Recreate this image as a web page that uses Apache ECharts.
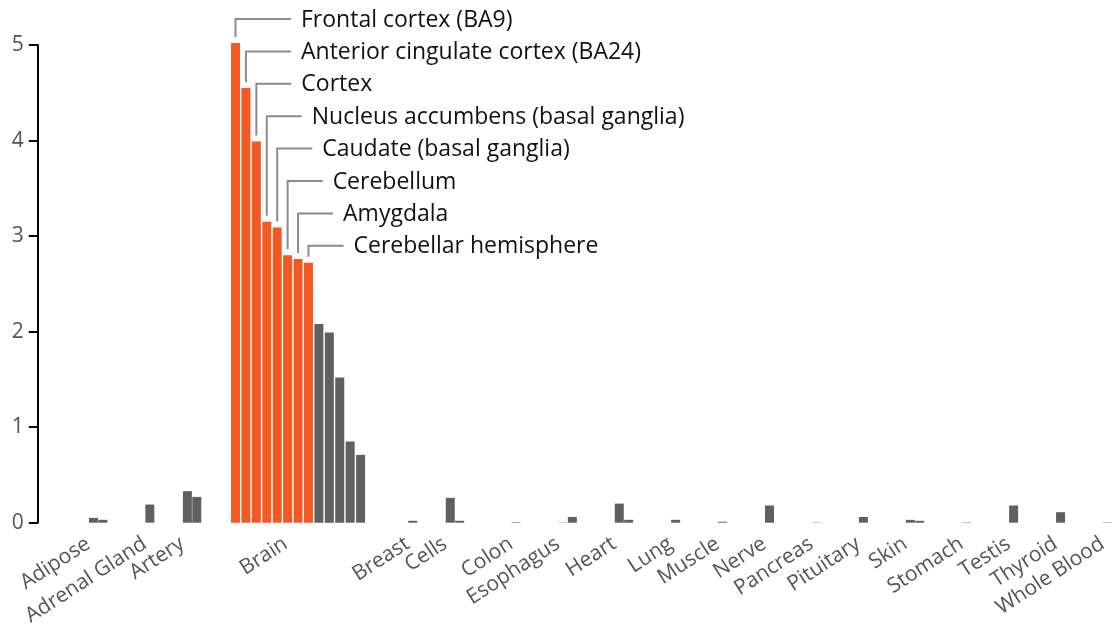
<!DOCTYPE html>
<html>
<head>
<meta charset="utf-8">
<script src="https://cdn.jsdelivr.net/npm/echarts@6/dist/echarts.min.js"></script>
<style>
  html, body { margin: 0; background: #fff; }
  #chart { width: 1115px; height: 631px; }
</style>
</head>
<body>
<div id="chart"></div>
<script>
// tissue groups (brain is kept apart, it gets its own wider band)
const tissues = ['Adipose', 'Adrenal Gland', 'Artery', 'Brain', 'Breast', 'Cells', 'Colon', 'Esophagus',
    'Heart', 'Lung', 'Muscle', 'Nerve', 'Pancreas', 'Pituitary', 'Skin', 'Stomach', 'Testis', 'Thyroid', 'Whole Blood'];

const tissueValues = [
    [0.05, 0.03],          // Adipose
    [0.19],                // Adrenal Gland
    [0.33, 0.27, 0],       // Artery
    [],                    // Brain (see below)
    [0.02],                // Breast
    [0.26, 0.02],          // Cells
    [0.006, 0],            // Colon
    [0.003, 0.06, 0],      // Esophagus
    [0.2, 0.03],           // Heart
    [0.03],                // Lung
    [0.01],                // Muscle
    [0.18],                // Nerve
    [0.003],               // Pancreas
    [0.06],                // Pituitary
    [0.03, 0.02],          // Skin
    [0.004],               // Stomach
    [0.18],                // Testis
    [0.11],                // Thyroid
    [0.004]                // Whole Blood
];

const brainNames = ['Frontal cortex (BA9)', 'Anterior cingulate cortex (BA24)', 'Cortex',
    'Nucleus accumbens (basal ganglia)', 'Caudate (basal ganglia)', 'Cerebellum', 'Amygdala',
    'Cerebellar hemisphere', 'Hypothalamus', 'Hippocampus', 'Putamen (basal ganglia)',
    'Substantia nigra', 'Spinal cord (cervical c-1)'];
const brainValues = [5.02, 4.55, 3.99, 3.15, 3.09, 2.8, 2.76, 2.72, 2.08, 1.99, 1.52, 0.85, 0.71];
const highlighted = 8;

// layout of the slot axis: first slot of each group, total slots
const groupStart = [0, 6, 10, 15, 34, 38, 45, 50, 56, 62, 67, 72, 77, 82, 87, 93, 98, 103, 108];
const slotCount = 109;
const brainLabelShift = 6;

const ORANGE = '#f15a24';
const GRAY = '#606060';
const FONT = '"Open Sans", "Noto Sans", sans-serif';

const slotNames = new Array(slotCount).fill('');
const slotValues = new Array(slotCount).fill(null);
tissues.forEach((t, g) => {
    const s = groupStart[g];
    slotNames[s + (t === 'Brain' ? brainLabelShift : 0)] = t;
    tissueValues[g].forEach((v, j) => { slotValues[s + j] = v; });
});

const chart = echarts.init(document.getElementById('chart'));

const gridTop = 45, gridBottom = 108.3;

const option = {
    backgroundColor: '#fff',
    animation: false,
    grid: [
        { left: 88.8, right: 2.8, top: gridTop, bottom: gridBottom },
        { left: 230.3, width: 135.5, top: gridTop, bottom: gridBottom }
    ],
    xAxis: [
        {
            type: 'category',
            gridIndex: 0,
            data: slotNames,
            axisLine: { show: false },
            axisTick: { show: false },
            axisLabel: {
                interval: 0,
                rotate: 33,
                margin: 16,
                padding: [0, 6, 0, 0],
                color: '#555',
                fontSize: 21,
                fontFamily: FONT
            }
        },
        {
            type: 'category',
            gridIndex: 1,
            data: brainNames,
            show: false
        }
    ],
    yAxis: [
        {
            type: 'value',
            gridIndex: 0,
            min: 0,
            max: 5,
            interval: 1,
            offset: 51,
            axisLine: { show: true, lineStyle: { color: '#000', width: 2 } },
            axisTick: { show: true, length: 9, lineStyle: { color: '#000', width: 2 } },
            axisLabel: { margin: 14, padding: [5, 0, 0, 0], color: '#555', fontSize: 21, fontFamily: FONT },
            splitLine: { show: false }
        },
        {
            type: 'value',
            gridIndex: 1,
            min: 0,
            max: 5,
            show: false,
            splitLine: { show: false }
        }
    ],
    series: [
        {
            type: 'bar',
            xAxisIndex: 0,
            yAxisIndex: 0,
            data: slotValues,
            barWidth: 9,
            itemStyle: { color: GRAY },
            clip: false
        },
        {
            type: 'bar',
            xAxisIndex: 1,
            yAxisIndex: 1,
            data: brainValues.map((v, i) => ({
                value: v,
                itemStyle: { color: i < highlighted ? ORANGE : GRAY }
            })),
            barWidth: 9,
            clip: false
        },
        {
            type: 'custom',
            xAxisIndex: 1,
            yAxisIndex: 1,
            clip: false,
            silent: true,
            data: brainValues.slice(0, highlighted).map((v, i) => [i, v]),
            renderItem: function (params, api) {
                const i = params.dataIndex;
                const p = api.coord([api.value(0), api.value(1)]);
                const rowY = 19 + i * 32.4;
                const endX = Math.max(291, p[0] + 35);
                return {
                    type: 'group',
                    children: [
                        {
                            type: 'polyline',
                            shape: { points: [[p[0], p[1] - 6], [p[0], rowY], [endX, rowY]] },
                            style: { stroke: '#8c8c8c', lineWidth: 2, fill: null, lineJoin: 'miter' }
                        },
                        {
                            type: 'text',
                            x: endX + 10,
                            y: rowY + 1,
                            style: {
                                text: brainNames[i],
                                fill: '#111',
                                font: '23px ' + FONT,
                                verticalAlign: 'middle',
                                align: 'left'
                            }
                        }
                    ]
                };
            }
        }
    ]
};

chart.setOption(option);
</script>
</body>
</html>
